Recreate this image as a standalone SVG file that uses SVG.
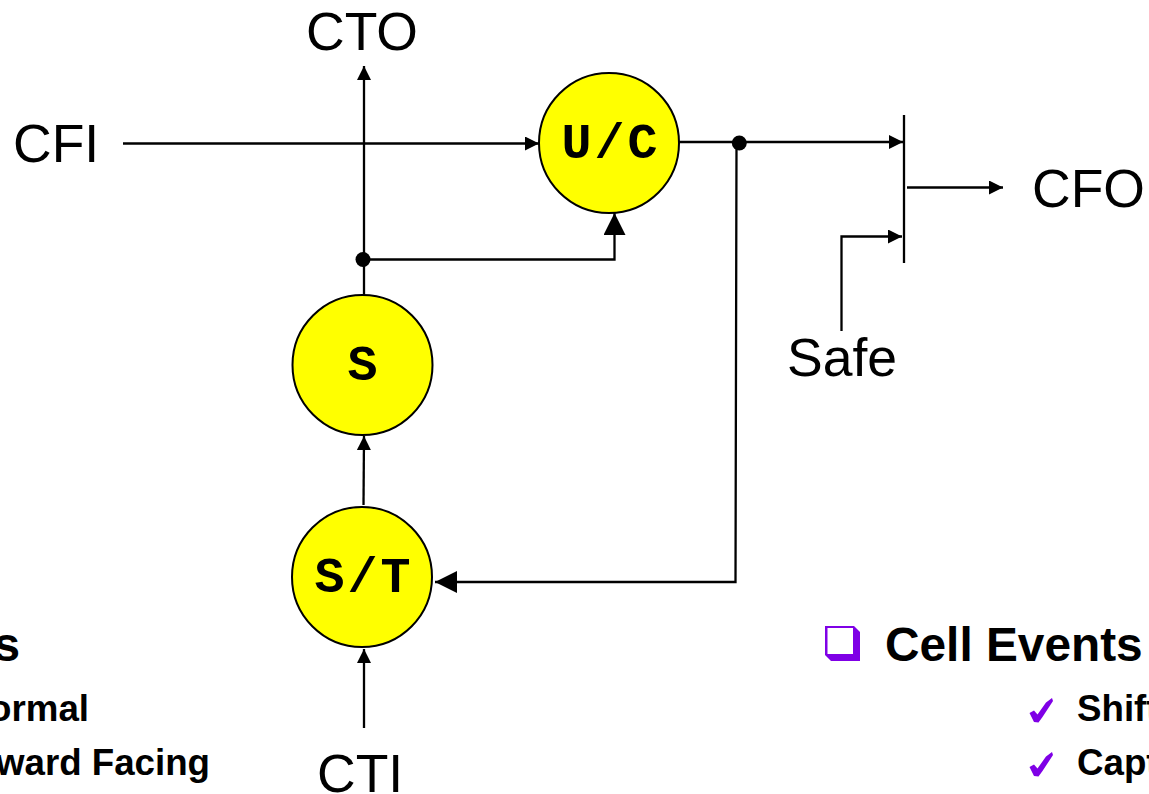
<svg xmlns="http://www.w3.org/2000/svg" width="1149" height="794" viewBox="0 0 1149 794">
<style>
text{font-family:"Liberation Sans",Arial,sans-serif;fill:#000}
.l{font-size:53.500px}
.m{font-family:"Liberation Mono","Courier New",monospace;font-weight:700;font-size:50px;letter-spacing:3px;text-anchor:middle}
.h{font-size:47.800px;font-weight:700}
.s{font-size:36.700px;font-weight:700}
.n{fill:#ff0;stroke:#000;stroke-width:2}
.c{fill:none;stroke:#000;stroke-width:2.300}
.d{fill:#000}
.p{fill:#7f00e6}
</style>
<defs>
<marker id="a" markerUnits="userSpaceOnUse" markerWidth="14" markerHeight="14" refX="14" refY="7" orient="auto"><path d="M0 0L14 7L0 14Z"/></marker>
<marker id="b" markerUnits="userSpaceOnUse" markerWidth="22" markerHeight="22" refX="22" refY="11" orient="auto"><path d="M0 0L22 11L0 22Z"/></marker>
<path id="chk" d="M1029.500 713L1034 710.500L1037.500 714.500L1046 702.500L1052 698L1053 701L1042.500 717L1038.500 722.500L1034 722Z"/>
</defs>
<g id="connectors">
<path class="c" d="M123 143.500H539" marker-end="url(#a)"/>
<path class="c" d="M364 295V66" marker-end="url(#a)"/>
<path class="c" d="M363 259.500H614.500V213" marker-end="url(#b)"/>
<path class="c" d="M363.500 505L364 436" marker-end="url(#a)"/>
<path class="c" d="M364 728V649" marker-end="url(#a)"/>
<path class="c" d="M679 142H903" marker-end="url(#a)"/>
<path class="c" d="M736.500 145L735.500 582H435" marker-end="url(#b)"/>
<path class="c" d="M904 115V263"/>
<path class="c" d="M907 187.500H1003" marker-end="url(#a)"/>
<path class="c" d="M841.500 331V236.500H902" marker-end="url(#a)"/>
<circle class="d" cx="739.300" cy="143" r="7.500"/>
<circle class="d" cx="363" cy="259.500" r="7.500"/>
</g>
<g id="node-uc"><circle class="n" cx="609" cy="143" r="70"/><text class="m" x="611" y="158">U/C</text></g>
<g id="node-s"><circle class="n" cx="362.500" cy="365" r="70"/><text class="m" x="364" y="380">S</text></g>
<g id="node-st"><circle class="n" cx="362" cy="577" r="70"/><text class="m" x="364" y="592">S/T</text></g>
<g id="label-cto"><text class="l" x="306" y="50">CTO</text></g>
<g id="label-cfi"><text class="l" x="13" y="162">CFI</text></g>
<g id="label-cfo"><text class="l" x="1032" y="207">CFO</text></g>
<g id="label-safe"><text class="l" x="787" y="376">Safe</text></g>
<g id="label-cti"><text class="l" x="317" y="792">CTI</text></g>
<g id="left-list">
<text class="h" x="20" y="661" text-anchor="end">s</text>
<text class="s" x="89" y="721" text-anchor="end">ormal</text>
<text class="s" x="210" y="775" text-anchor="end">ward Facing</text>
</g>
<g id="right-list">
<path class="p" d="M825 626H854L860 632V661H831L825 655Z"/>
<rect x="827.500" y="628" width="25.500" height="26" fill="#fff"/>
<text class="h" x="885" y="661">Cell Events</text>
<use href="#chk" class="p"/>
<text class="s" x="1077" y="721">Shift</text>
<use href="#chk" class="p" y="54"/>
<text class="s" x="1077" y="775">Capt</text>
</g>
</svg>
